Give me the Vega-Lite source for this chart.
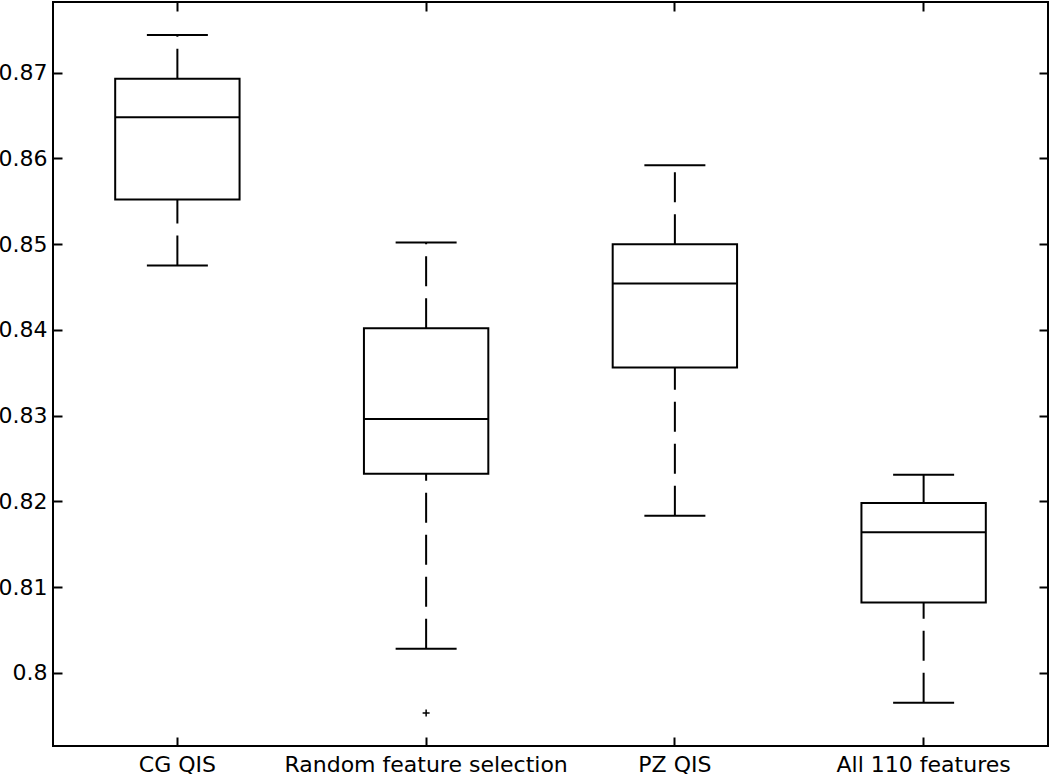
{
  "$schema": "https://vega.github.io/schema/vega-lite/v6.json",
  "width": 995,
  "height": 744,
  "autosize": {"type": "none"},
  "padding": {"left": 53, "top": 2, "right": 2, "bottom": 28},
  "background": "white",
  "config": {
    "view": {"stroke": "black", "strokeWidth": 2},
    "axis": {
      "grid": false,
      "domain": false,
      "tickColor": "black",
      "tickWidth": 2,
      "tickSize": -9,
      "labelFont": "DejaVu Sans",
      "labelFontSize": 22,
      "labelColor": "black",
      "labelLimit": 0,
      "title": null
    }
  },
  "datasets": {
    "boxes": [
      {"group": "CG QIS", "lower": 0.8475, "q1": 0.8552, "median": 0.8648, "q3": 0.8693, "upper": 0.8744},
      {"group": "Random feature selection", "lower": 0.8028, "q1": 0.8232, "median": 0.8296, "q3": 0.8402, "upper": 0.8502},
      {"group": "PZ QIS", "lower": 0.8183, "q1": 0.8356, "median": 0.8454, "q3": 0.8500, "upper": 0.8592},
      {"group": "All 110 features", "lower": 0.7965, "q1": 0.8082, "median": 0.8164, "q3": 0.8198, "upper": 0.8231}
    ],
    "outliers": [
      {"group": "Random feature selection", "value": 0.7953}
    ]
  },
  "resolve": {"axis": {"x": "independent", "y": "independent"}},
  "layer": [
    {
      "data": {"name": "boxes"},
      "mark": {"type": "rule", "color": "black", "strokeWidth": 2, "strokeDash": [30, 12]},
      "encoding": {
        "x": {"field": "group", "type": "nominal", "sort": null,
              "scale": {"type": "band", "paddingInner": 0, "paddingOuter": 0},
              "axis": {"orient": "bottom", "labelAngle": 0, "labelPadding": 17}},
        "y": {"field": "lower", "type": "quantitative",
              "scale": {"domain": [0.79145, 0.87825], "nice": false, "zero": false},
              "axis": {"orient": "left", "values": [0.80, 0.81, 0.82, 0.83, 0.84, 0.85, 0.86, 0.87], "format": ".2~f", "labelPadding": 15}},
        "y2": {"field": "q1"}
      }
    },
    {
      "data": {"name": "boxes"},
      "mark": {"type": "rule", "color": "black", "strokeWidth": 2, "strokeDash": [30, 12]},
      "encoding": {
        "x": {"field": "group", "type": "nominal", "sort": null, "axis": null},
        "y": {"field": "q3", "type": "quantitative", "axis": null},
        "y2": {"field": "upper"}
      }
    },
    {
      "data": {"name": "boxes"},
      "mark": {"type": "bar", "width": {"band": 0.5}, "fill": "white", "stroke": "black", "strokeWidth": 2},
      "encoding": {
        "x": {"field": "group", "type": "nominal", "sort": null, "axis": null},
        "y": {"field": "q1", "type": "quantitative", "axis": null},
        "y2": {"field": "q3"}
      }
    },
    {
      "data": {"name": "boxes"},
      "mark": {"type": "tick", "color": "black", "size": 124, "thickness": 2, "opacity": 1},
      "encoding": {
        "x": {"field": "group", "type": "nominal", "sort": null, "axis": null},
        "y": {"field": "median", "type": "quantitative", "axis": null}
      }
    },
    {
      "data": {"name": "boxes"},
      "mark": {"type": "tick", "color": "black", "size": 61, "thickness": 2, "opacity": 1},
      "encoding": {
        "x": {"field": "group", "type": "nominal", "sort": null, "axis": null},
        "y": {"field": "upper", "type": "quantitative", "axis": null}
      }
    },
    {
      "data": {"name": "boxes"},
      "mark": {"type": "tick", "color": "black", "size": 61, "thickness": 2, "opacity": 1},
      "encoding": {
        "x": {"field": "group", "type": "nominal", "sort": null, "axis": null},
        "y": {"field": "lower", "type": "quantitative", "axis": null}
      }
    },
    {
      "data": {"name": "outliers"},
      "mark": {"type": "point", "shape": "M-1,0L1,0M0,-1L0,1", "size": 49, "filled": false, "stroke": "black", "strokeWidth": 1.5, "opacity": 1},
      "encoding": {
        "x": {"field": "group", "type": "nominal", "sort": null,
              "axis": {"orient": "top", "labels": false}},
        "y": {"field": "value", "type": "quantitative",
              "axis": {"orient": "right", "labels": false, "values": [0.80, 0.81, 0.82, 0.83, 0.84, 0.85, 0.86, 0.87]}}
      }
    }
  ]
}
